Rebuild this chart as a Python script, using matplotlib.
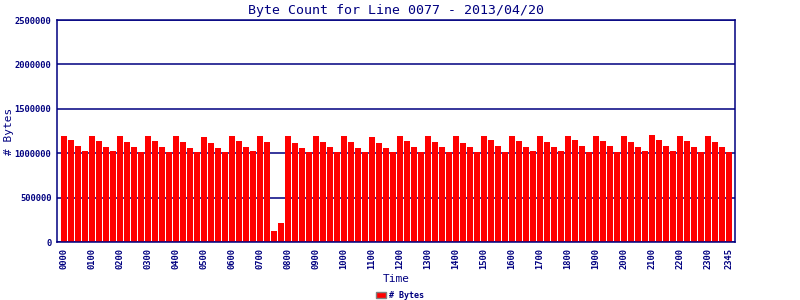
import matplotlib
matplotlib.use("Agg")
import matplotlib.pyplot as plt
import numpy as np

# byte counts per 15-minute interval, one row per hour
hourly_bytes = [
    [1195000, 1150000, 1082000, 1026000],  # 00
    [1195000, 1139000, 1071000, 1026000],  # 01
    [1195000, 1127000, 1071000, 1015000],  # 02
    [1195000, 1139000, 1071000, 1015000],  # 03
    [1195000, 1127000, 1060000, 1015000],  # 04
    [1184000, 1116000, 1060000, 1015000],  # 05
    [1195000, 1139000, 1071000, 1026000],  # 06
    [1195000, 1127000, 127000, 217000],    # 07
    [1195000, 1116000, 1060000, 1015000],  # 08
    [1195000, 1127000, 1071000, 1015000],  # 09
    [1195000, 1127000, 1060000, 1015000],  # 10
    [1184000, 1116000, 1060000, 1015000],  # 11
    [1195000, 1139000, 1071000, 1015000],  # 12
    [1195000, 1127000, 1071000, 1015000],  # 13
    [1195000, 1116000, 1071000, 1015000],  # 14
    [1195000, 1150000, 1082000, 1015000],  # 15
    [1195000, 1139000, 1071000, 1026000],  # 16
    [1195000, 1127000, 1071000, 1026000],  # 17
    [1195000, 1150000, 1082000, 1015000],  # 18
    [1195000, 1139000, 1082000, 1015000],  # 19
    [1195000, 1127000, 1071000, 1026000],  # 20
    [1206000, 1150000, 1082000, 1026000],  # 21
    [1195000, 1139000, 1071000, 1015000],  # 22
    [1195000, 1127000, 1071000, 1015000],  # 23
]
byte_counts = [v for hour in hourly_bytes for v in hour]
tick_labels = ["%02d00" % h for h in range(24)] + ["2345"]
tick_pos = list(range(0, 96, 4)) + [95]

navy = "#000080"
mono = "DejaVu Sans Mono"

fig = plt.figure(figsize=(8, 3), dpi=100)
ax = fig.add_axes([0.07125, 0.1933, 0.8475, 0.74])

x = np.arange(len(byte_counts))
ax.bar(x, byte_counts, width=0.86, color="#ff0000", label="# Bytes", zorder=2)

ax.set_xlim(-1, 95.9)
ax.set_ylim(0, 2500000)
ax.set_yticks([0, 500000, 1000000, 1500000, 2000000, 2500000])
ax.set_yticklabels(["0", "500000", "1000000", "1500000", "2000000", "2500000"],
                   family=mono, fontsize=6.3, fontweight="bold", color=navy)
ax.set_xticks(tick_pos)
ax.set_xticklabels(tick_labels, rotation=90, family=mono, fontsize=6.3,
                   fontweight="bold", color=navy)
ax.tick_params(length=0, pad=4)
ax.grid(axis="y", color=navy, linewidth=1.1, zorder=1)
for s in ax.spines.values():
    s.set_color(navy)
    s.set_linewidth(1.1)

ax.set_title("Byte Count for Line 0077 - 2013/04/20", family=mono,
             fontsize=9.5, color=navy, pad=4)
ax.set_xlabel("Time", family=mono, fontsize=8, color=navy, labelpad=4)
ax.set_ylabel("# Bytes", family=mono, fontsize=8, color=navy)
ax.yaxis.set_label_coords(-0.064, 0.5)

leg = fig.legend(loc="lower center", bbox_to_anchor=(0.5, -0.025), frameon=False,
                 prop={"family": mono, "size": 6, "weight": "bold"},
                 handlelength=1.2, handleheight=0.8, handletextpad=0.4)
for t in leg.get_texts():
    t.set_color(navy)
for h in leg.legend_handles:
    h.set_edgecolor("#808080")
    h.set_linewidth(1)

fig.savefig("out.png", dpi=100)
